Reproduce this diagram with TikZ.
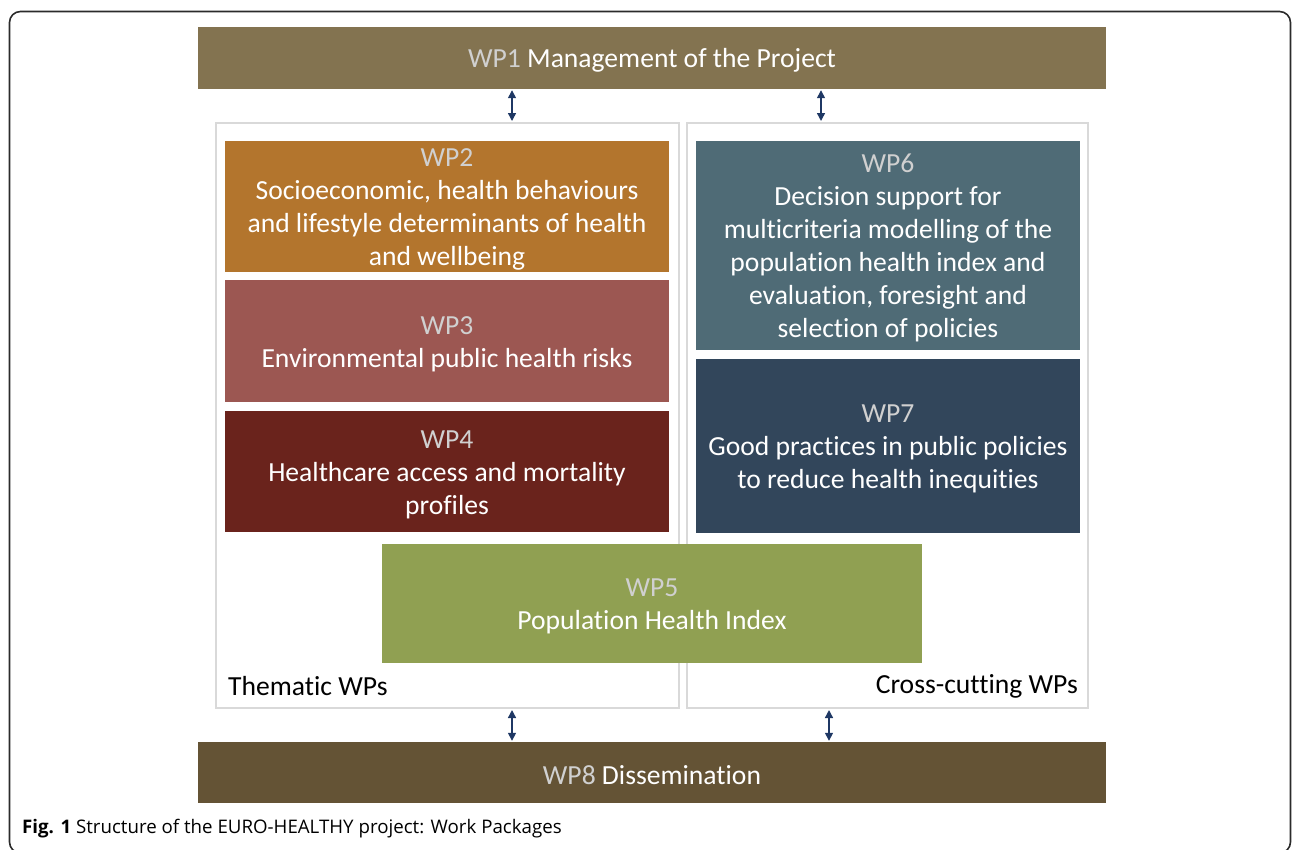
\documentclass[tikz,border=0pt]{standalone}
\usepackage{fontspec}
\setmainfont{Carlito}[Ligatures=NoCommon]
\newfontfamily\capfont{Open Sans}
\usetikzlibrary{arrows.meta}
\definecolor{cwpone}{HTML}{837350}
\definecolor{cwptwo}{HTML}{B3752D}
\definecolor{cwpthree}{HTML}{9C5752}
\definecolor{cwpfour}{HTML}{6A231C}
\definecolor{cwpfive}{HTML}{90A052}
\definecolor{cwpsix}{HTML}{4F6B76}
\definecolor{cwpseven}{HTML}{32465B}
\definecolor{cwpeight}{HTML}{645335}
\definecolor{clabel}{HTML}{D0D0D0}
\definecolor{cborder}{HTML}{D9D9D9}
\definecolor{carrow}{HTML}{1F3864}
\definecolor{cframe}{HTML}{2B2B2B}
\tikzset{
  wpbox/.style={draw=none, inner sep=0pt, align=center, text=white,
    font=\fontsize{27.6}{33}\selectfont},
  container/.style={draw=cborder, line width=2pt, inner sep=0pt},
  biarrow/.style={carrow, line width=1.4pt, {Triangle[length=8pt,width=8pt]}-{Triangle[length=8pt,width=8pt]}, shorten <=1pt, shorten >=1pt},
  sidelabel/.style={inner sep=0pt, text=black, font=\fontsize{27.6}{33}\selectfont},
}
\newcommand{\wplab}[1]{\rule{0pt}{24pt}\textcolor{clabel}{#1}}
\begin{document}
\begin{tikzpicture}[x=1pt,y=-1pt]
\useasboundingbox (0,0) rectangle (1296,849);
% outer frame
\draw[cframe, line width=1.6pt, rounded corners=11pt] (9.5,11.5) rectangle (1290.5,853);
% containers
\node[container, minimum width=463, minimum height=585] (left) at (447.5,415.5) {};
\node[container, minimum width=401, minimum height=585] (right) at (887.5,415.5) {};
% top and bottom bars
\node[wpbox, fill=cwpone, minimum width=908, minimum height=62] (wp1) at (652,58) {\wplab{WP1} Management of the Project};
\node[wpbox, fill=cwpeight, minimum width=908, minimum height=61] (wp8) at (652,772.5) {\wplab{WP8} Dissemination};
% thematic
\node[wpbox, fill=cwptwo, minimum width=444, minimum height=131] (wp2) at (447,206.5) {\wplab{WP2}\\Socioeconomic, health behaviours\\and lifestyle determinants of health\\and wellbeing};
\node[wpbox, fill=cwpthree, minimum width=444, minimum height=122] (wp3) at (447,341) {\wplab{WP3}\\Environmental public health risks};
\node[wpbox, fill=cwpfour, minimum width=444, minimum height=121] (wp4) at (447,471.5) {\wplab{WP4}\\Healthcare access and mortality\\profiles};
% cross-cutting
\node[wpbox, fill=cwpsix, minimum width=384, minimum height=209] (wp6) at (888,245.5) {\wplab{WP6}\\Decision support for\\multicriteria modelling of the\\population health index and\\evaluation, foresight and\\selection of policies};
\node[wpbox, fill=cwpseven, minimum width=384, minimum height=174] (wp7) at (888,446) {\wplab{WP7}\\Good practices in public policies\\to reduce health inequities};
% WP5
\node[wpbox, fill=cwpfive, minimum width=540, minimum height=119] (wp5) at (652,603.5) {\wplab{WP5}\\Population Health Index};
% side labels
\node[sidelabel, anchor=west] (thematic) at (228,686) {Thematic WPs};
\node[sidelabel, anchor=east] (cross) at (1078,686) {Cross-cutting WPs};
% arrows
\coordinate (ta) at (512,0);
\coordinate (tb) at (821,0);
\coordinate (ba) at (512,0);
\coordinate (bb) at (829,0);
\draw[biarrow] (wp1.south -| ta) -- (left.north -| ta);
\draw[biarrow] (wp1.south -| tb) -- (right.north -| tb);
\draw[biarrow] (left.south -| ba) -- (wp8.north -| ba);
\draw[biarrow] (right.south -| bb) -- (wp8.north -| bb);
% caption
\node[anchor=west, inner sep=0pt, font=\capfont\fontsize{18.7}{22}\selectfont] (caption) at (22,829) {\textbf{Fig. 1} Structure of the EURO-HEALTHY project: Work Packages};
\end{tikzpicture}
\end{document}
